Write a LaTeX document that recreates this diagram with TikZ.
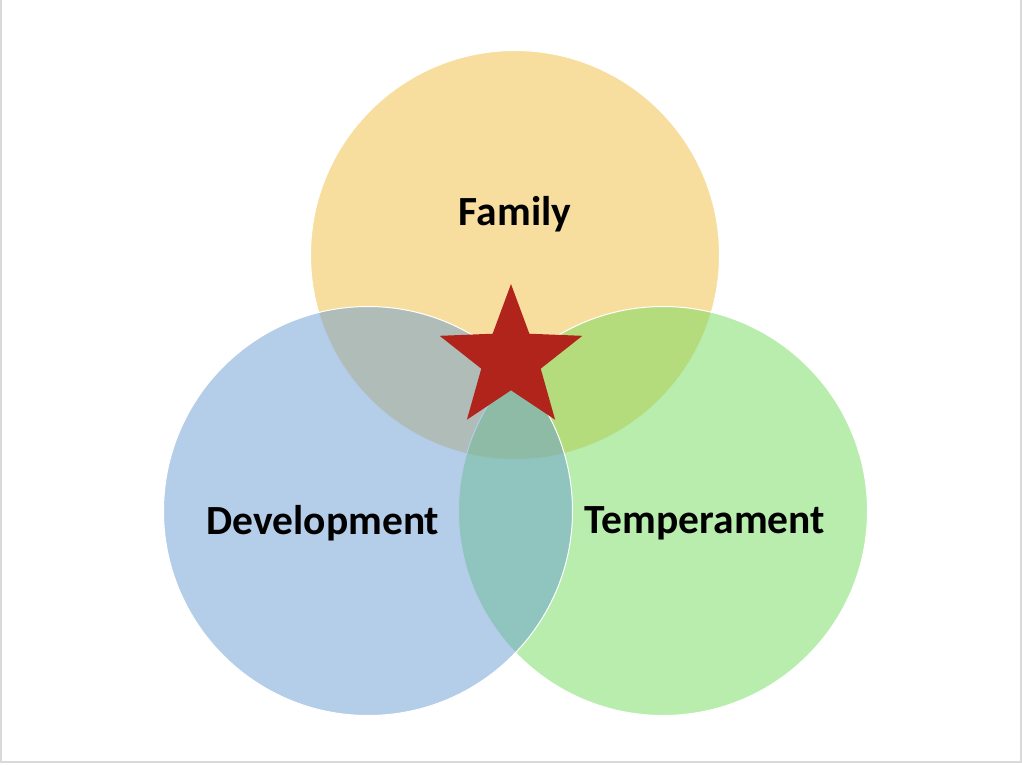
\documentclass[tikz,border=0pt]{standalone}
\usepackage{fontspec}
\setmainfont{Carlito}
\usepackage{tikz}
\usetikzlibrary{shapes.geometric, positioning}
\definecolor{familygold}{RGB}{241,189,61}
\definecolor{devblue}{RGB}{105,155,209}
\definecolor{tempgreen}{RGB}{113,219,91}
\definecolor{starred}{RGB}{176,36,27}
\definecolor{framegray}{RGB}{217,217,217}

\begin{document}
\begin{tikzpicture}[x=1pt, y=-1pt,
  set/.style={circle, minimum size=409pt, inner sep=0pt, draw=white, line width=1pt, fill opacity=0.5},
  setlabel/.style={font=\fontsize{41.5}{50}\selectfont\bfseries, text=black}]
\useasboundingbox (0,0) rectangle (1022,764);
% Rahmen
\draw[framegray, line width=1.5pt] (0.75,0) -- (0.75,762) -- (1021,762) -- (1021,0);

% drei Kreise
\node[set, fill=familygold] (family) at (515,255) {};
\node[set, fill=tempgreen] (temperament) at (663,511) {};
\node[set, fill=devblue] (development) at (368,511) {};

% Stern in der Mitte
\node[star, star points=5, star point ratio=2.4, minimum size=150pt, inner sep=0pt, fill=starred] (core) at (511,359) {};

% Beschriftungen
\node[setlabel] (familytext) at (515,214) {Family};
\node[setlabel] (devtext) at (323,523) {Development};
\node[setlabel] (temptext) at (705,523) {Temperament};
\end{tikzpicture}
\end{document}
